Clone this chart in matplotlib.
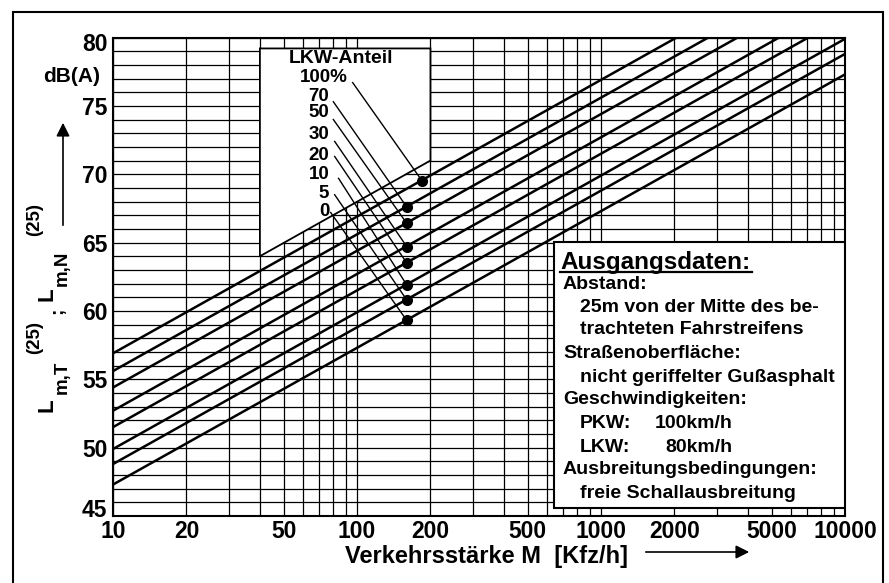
import numpy as np
import matplotlib
matplotlib.use("Agg")
import matplotlib.pyplot as plt
import matplotlib.transforms as mtransforms
from matplotlib.patches import Polygon, Rectangle
from matplotlib.lines import Line2D
from matplotlib.ticker import FixedLocator, LogLocator, MultipleLocator, NullFormatter

plt.rcParams['font.family'] = ['Liberation Sans', 'DejaVu Sans']
plt.rcParams['font.weight'] = 'bold'

# LKW-Anteil in %, Pegel an den Enden M = 10 und M = 10000 Kfz/h
lkw_anteil = [0, 5, 10, 20, 30, 50, 70, 100]
lkw_labels = ['0', '5', '10', '20', '30', '50', '70', '100%']
m_ends = [10, 10000]
pegel_10 = [47.3, 48.8, 49.9, 51.5, 52.7, 54.4, 55.6, 56.9]
pegel_10000 = [77.3, 78.8, 79.9, 81.5, 82.7, 84.4, 85.6, 86.9]

# markierte Punkte
punkt_m = [160, 160, 160, 160, 160, 160, 160, 185]
punkt_l = [59.3, 60.8, 61.9, 63.5, 64.7, 66.4, 67.6, 69.5]

x_ticks = [10, 20, 50, 100, 200, 500, 1000, 2000, 5000, 10000]
y_ticks = [45, 50, 55, 60, 65, 70, 75, 80]

W, H = 889, 583
def fx(px):
    return px / W
def fy(py):
    return 1 - py / H

fig = plt.figure(figsize=(W / 100, H / 100), dpi=100)
ax = fig.add_axes([fx(113), fy(516), fx(845) - fx(113), fy(37.5) - fy(516)])
ax.set_xscale('log')
ax.set_xlim(10, 10000)
ax.set_ylim(45, 80)
ax.set_axisbelow(True)

ax.xaxis.set_major_locator(FixedLocator(x_ticks))
ax.set_xticklabels([str(t) for t in x_ticks])
ax.xaxis.set_minor_locator(LogLocator(base=10, subs=np.arange(1, 10)))
ax.xaxis.set_minor_formatter(NullFormatter())
ax.set_yticks(y_ticks)
ax.yaxis.set_minor_locator(MultipleLocator(1))
ax.tick_params(which='both', length=0)
ax.tick_params(axis='x', labelsize=16.5, pad=3)
ax.tick_params(axis='y', labelsize=16.5, pad=4)
ax.grid(which='both', color='black', lw=0.9)
for s in ax.spines.values():
    s.set_linewidth(1.5)

# oberste und unterste Zahl etwas nach innen ruecken
ylabels = ax.get_yticklabels()
ylabels[0].set_transform(ylabels[0].get_transform() +
                         mtransforms.ScaledTranslation(0, 8 / 100, fig.dpi_scale_trans))
ylabels[-1].set_transform(ylabels[-1].get_transform() +
                          mtransforms.ScaledTranslation(0, -5 / 100, fig.dpi_scale_trans))

# Kennlinien
for a, b in zip(pegel_10, pegel_10000):
    ax.plot(m_ends, [a, b], color='black', lw=1.8, zorder=3)

# weisses Feld oben links
ax.add_patch(Polygon([(40, 79.2), (200, 79.2), (200, 71.0), (40, 64.0)],
                     closed=True, fc='white', ec='black', lw=1.3, zorder=2))

# Beschriftung LKW-Anteil
ax.text(86, 78.5, 'LKW-Anteil', ha='center', va='center', fontsize=14, zorder=6)
label_y = [67.3, 68.6, 70.0, 71.4, 72.9, 74.5, 75.7, 77.1]
label_x = [77, 77, 77, 77, 77, 77, 77, 92]
start_x = [78, 81, 84, 81, 81, 80, 80, 96]
start_y = [67.2, 68.5, 69.7, 71.3, 72.4, 74.0, 75.3, 76.7]
for i in range(len(lkw_anteil)):
    ax.text(label_x[i], label_y[i], lkw_labels[i], ha='right', va='center',
            fontsize=13.5, zorder=6)
    ax.plot([start_x[i], punkt_m[i]], [start_y[i], punkt_l[i]],
            color='black', lw=1.0, zorder=4)
ax.plot(punkt_m, punkt_l, 'o', color='black', ms=7, zorder=5)

# Kasten Ausgangsdaten
ax.add_patch(Rectangle((640, 45.6), 10000 - 640, 65.05 - 45.6,
                       fc='white', ec='black', lw=1.5, zorder=4))
fs = 14
fig.text(fx(560), fy(262), 'Ausgangsdaten:', fontsize=17.5, va='center', ha='left')
fig.add_artist(Line2D([fx(560), fx(752)], [fy(271.5), fy(271.5)], color='black', lw=1.6))
zeilen = [
    (563, 284, 'Abstand:'),
    (580, 307, '25m von der Mitte des be-'),
    (580, 330, 'trachteten Fahrstreifens'),
    (563, 353, 'Straßenoberfläche:'),
    (580, 377, 'nicht geriffelter Gußasphalt'),
    (563, 400, 'Geschwindigkeiten:'),
    (580, 423, 'PKW:'),
    (580, 447, 'LKW:'),
    (563, 470, 'Ausbreitungsbedingungen:'),
    (580, 493, 'freie Schallausbreitung'),
]
for px, py, t in zeilen:
    fig.text(fx(px), fy(py), t, fontsize=fs, va='center', ha='left')
fig.text(fx(733), fy(423), '100km/h', fontsize=fs, va='center', ha='right')
fig.text(fx(733), fy(447), '80km/h', fontsize=fs, va='center', ha='right')

# Achsenbeschriftungen
fig.text(fx(100), fy(77), 'dB(A)', fontsize=15, ha='right', va='center')
for px, py, t, s in [(47, 405, 'L', 16), (62, 377, 'm,T', 13.5), (35, 337, '(25)', 13.5),
                     (58, 311, ';', 13.5),
                     (47, 294, 'L', 16), (62, 268, 'm,N', 13.5), (35, 220, '(25)', 13.5)]:
    fig.text(fx(px), fy(py), t, fontsize=s, rotation=90, ha='center', va='center')
ax.annotate('', xy=(63, H - 120), xytext=(63, H - 228), xycoords='figure pixels',
            arrowprops=dict(arrowstyle='-|>', color='black', lw=1.2, mutation_scale=20))

fig.text(fx(345), fy(556), 'Verkehrsstärke M  [Kfz/h]', fontsize=17, ha='left', va='center')
ax.annotate('', xy=(752, H - 552), xytext=(643, H - 552), xycoords='figure pixels',
            arrowprops=dict(arrowstyle='-|>', color='black', lw=1.2, mutation_scale=20))

# Rahmen
fig.add_artist(Rectangle((fx(12.5), fy(600)), fx(883) - fx(12.5), fy(12) - fy(600),
                         fill=False, ec='black', lw=1.5, transform=fig.transFigure))

fig.savefig('out.png', dpi=100)
